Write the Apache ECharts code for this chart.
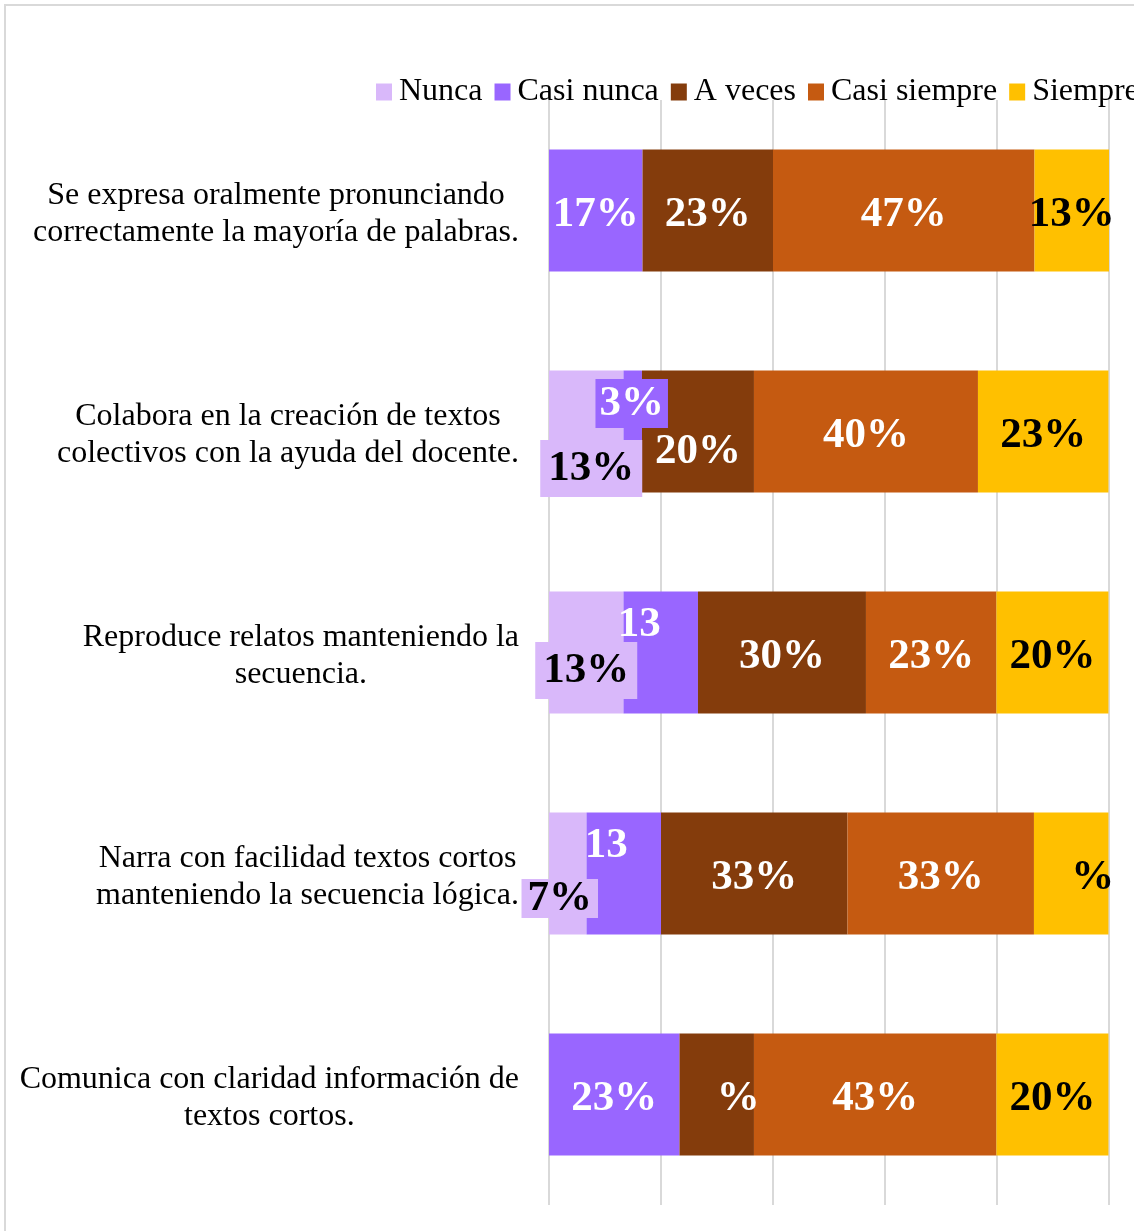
<!DOCTYPE html>
<html>
<head>
<meta charset="utf-8">
<script src="https://cdn.jsdelivr.net/npm/echarts@6/dist/echarts.min.js"></script>
<style>
  html, body { margin: 0; padding: 0; overflow: hidden; background: #fff; }
  #frame { position: absolute; left: 4px; top: 4px; width: 1300px; height: 1300px;
           border-left: 2px solid #d9d9d9; border-top: 2px solid #d9d9d9; }
  #box { width: 1200px; height: 1225px; }
</style>
</head>
<body>
<div id="frame"><div id="box"></div></div>
<script>
// categorias (de arriba a abajo)
const categories = [
  'Se expresa oralmente pronunciando\ncorrectamente la mayoría de palabras.',
  'Colabora en la creación de textos\ncolectivos con la ayuda del docente.',
  'Reproduce relatos manteniendo la\nsecuencia.',
  'Narra con facilidad textos cortos\nmanteniendo la secuencia lógica.',
  'Comunica con claridad información de\ntextos cortos.'
];
const seriesNames = ['Nunca', 'Casi nunca', 'A veces', 'Casi siempre', 'Siempre'];

// porcentajes
const nunca       = [0,    13.3, 13.3, 6.7,  0];
const casiNunca   = [16.7, 3.3,  13.3, 13.3, 23.3];
const aVeces      = [23.3, 20.0, 30.0, 33.3, 13.3];
const casiSiempre = [46.7, 40.0, 23.3, 33.3, 43.3];
const siempre     = [13.3, 23.3, 20.0, 13.3, 20.0];
const values = [nunca, casiNunca, aVeces, casiSiempre, siempre];

const colors = ['#D9B8FA', '#9966FF', '#843C0C', '#C55A11', '#FFC000'];
const labelColors = ['#000', '#fff', '#fff', '#fff', '#000'];

// etiquetas movidas a mano (serie -> fila)
const tweaks = {
  0: { 1: { offset: [5, 37], bg: true, pad: [7, 8] },
       2: { offset: [0, 18], bg: true, pad: [7, 8] },
       3: { offset: [-8, 25], bg: true, pad: [0, 6], lh: 39 } },
  1: { 1: { offset: [-1, -28], bg: true, pad: [3, 4] },
       2: { offset: [0, -28], hide: '%' },
       3: { offset: [4, -28], hide: '%' } },
  2: { 1: { offset: [0, 20] },
       4: { hide: '13' } },
  4: { 3: { hide: '13' } }
};

const pct = v => Math.round(v) + '%';

function makeData(vals, si) {
  return vals.map((v, ri) => {
    if (v === 0) return { value: v, label: { show: false } };
    const t = (tweaks[si] || {})[ri];
    if (!t) return v;
    const lab = { offset: t.offset || [0, 4] };
    if (t.bg) { lab.backgroundColor = colors[si]; lab.padding = t.pad; }
    if (t.lh) lab.lineHeight = t.lh;
    if (t.hide) lab.formatter = pct(v).replace(t.hide, '{h|' + t.hide + '}');
    return { value: v, label: lab };
  });
}

const font = 'Liberation Serif, Times New Roman, serif';

var myChart = echarts.init(document.getElementById('box'));
var option = {
  animation: false,
  legend: {
    data: seriesNames,
    left: 370,
    top: 70,
    padding: 0,
    itemWidth: 16,
    itemHeight: 17,
    itemGap: 12,
    icon: 'rect',
    textStyle: { fontFamily: font, fontSize: 32, color: '#000', padding: [0, 0, 0, 2] }
  },
  grid: { left: 543, top: 94, width: 560, height: 1105 },
  xAxis: {
    type: 'value',
    min: 0,
    max: 100,
    interval: 20,
    axisLabel: { show: false },
    axisLine: { show: false },
    axisTick: { show: false },
    splitLine: { lineStyle: { color: '#d9d9d9', width: 2 } }
  },
  yAxis: {
    type: 'category',
    data: categories,
    inverse: true,
    axisLine: { show: false },
    axisTick: { show: false },
    axisLabel: {
      margin: 30,
      align: 'right',
      padding: [8, 0, 0, 0],
      formatter: s => s.split('\n').map(l => '{c|' + l + '}').join('\n'),
      rich: {
        c: { align: 'center', fontFamily: font, fontSize: 32, lineHeight: 37, color: '#000' }
      }
    }
  },
  series: seriesNames.map((name, si) => ({
    name: name,
    type: 'bar',
    stack: 'total',
    barWidth: 122,
    itemStyle: { color: colors[si] },
    label: {
      show: true,
      position: 'inside',
      offset: [0, 4],
      formatter: p => pct(p.value),
      color: labelColors[si],
      fontFamily: font,
      fontSize: 43,
      fontWeight: 'bold',
      rich: {
        h: { color: 'rgba(0,0,0,0)', fontFamily: font, fontSize: 43, fontWeight: 'bold' }
      }
    },
    data: makeData(values[si], si)
  }))
};
myChart.setOption(option);
</script>
</body>
</html>
